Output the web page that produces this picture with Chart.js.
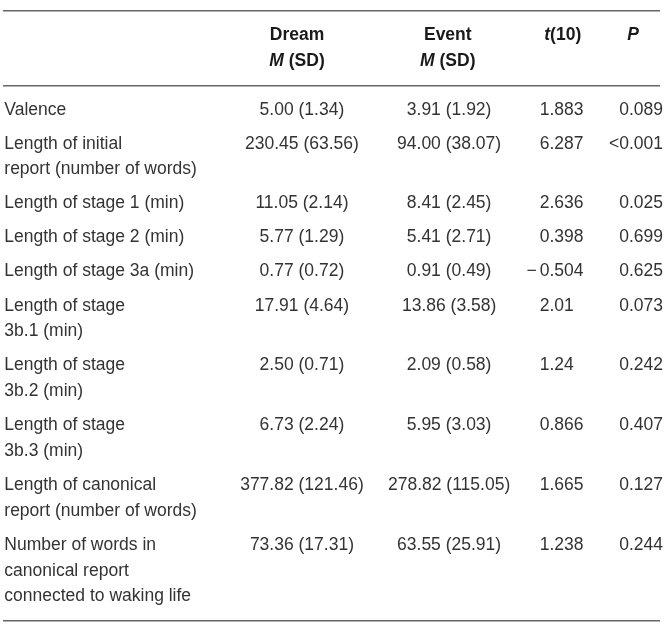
<!DOCTYPE html>
<html>
<head>
<meta charset="utf-8">
<script src="https://cdn.jsdelivr.net/npm/chart.js@4.4.1/dist/chart.umd.min.js"></script>
<style>
    html, body { margin: 0; padding: 0; background: #fff; }
    #wrap { width: 667px; height: 630px; position: relative; }
</style>
</head>
<body>
<div id="wrap"><canvas id="tableChart"></canvas></div>
<script>
// --- Table data ---
const rowLabels = [
    ['Valence'],
    ['Length of initial', 'report (number of words)'],
    ['Length of stage 1 (min)'],
    ['Length of stage 2 (min)'],
    ['Length of stage 3a (min)'],
    ['Length of stage', '3b.1 (min)'],
    ['Length of stage', '3b.2 (min)'],
    ['Length of stage', '3b.3 (min)'],
    ['Length of canonical', 'report (number of words)'],
    ['Number of words in', 'canonical report', 'connected to waking life']
];
const dreamMean = [5.00, 230.45, 11.05, 5.77, 0.77, 17.91, 2.50, 6.73, 377.82, 73.36];
const dreamSD   = [1.34, 63.56, 2.14, 1.29, 0.72, 4.64, 0.71, 2.24, 121.46, 17.31];
const eventMean = [3.91, 94.00, 8.41, 5.41, 0.91, 13.86, 2.09, 5.95, 278.82, 63.55];
const eventSD   = [1.92, 38.07, 2.45, 2.71, 0.49, 3.58, 0.58, 3.03, 115.05, 25.91];
const tValues   = [1.883, 6.287, 2.636, 0.398, -0.504, 2.01, 1.24, 0.866, 1.665, 1.238];
const pValues   = ['0.089', '<0.001', '0.025', '0.699', '0.625', '0.073', '0.242', '0.407', '0.127', '0.244'];

// --- Layout (in table units: x 0..1 across the rules, y in text lines) ---
const GAP = 0.32;   // space between rows
const PAD = 0.29;   // space next to each rule
const HEADER_LINES = 2;

const COL = {
    label: 0.002,
    dreamHead: 0.4475, dream: 0.455,
    eventHead: 0.677, event: 0.679,
    tHead: 0.852, t: 0.817,
    pHead: 0.959, p: 1.0046
};

const BODY_FONT = '17.5px "Liberation Sans", Arial, sans-serif';
const BOLD_FONT = 'bold 17.5px "Liberation Sans", Arial, sans-serif';
const BOLD_ITALIC = 'italic bold 17.5px "Liberation Sans", Arial, sans-serif';

// Work out where every row sits and where the rules go
const headerRule = PAD + HEADER_LINES + GAP + PAD;
const rowTops = [];
let yCursor = headerRule + PAD;
rowLabels.forEach(lines => {
    rowTops.push(yCursor);
    yCursor += lines.length + GAP;
});
const tableEnd = yCursor + PAD;
const rules = [0, headerRule, tableEnd];

function lineCenter(top, k) {
    return top + GAP / 2 + 0.5 + k;
}

const fmt2 = v => v.toFixed(2);
const fmtT = v => String(v).replace('-', '\u2212');

// Draw a line of mixed-font runs, centred on x
function drawRuns(ctx, runs, x, y) {
    let total = 0;
    runs.forEach(r => { ctx.font = r.font; total += ctx.measureText(r.text).width; });
    let cx = x - total / 2;
    ctx.textAlign = 'left';
    runs.forEach(r => {
        ctx.font = r.font;
        ctx.fillText(r.text, cx, y);
        cx += ctx.measureText(r.text).width;
    });
}

const cellText = {
    id: 'cellText',
    afterDraw(chart) {
        const ctx = chart.ctx;
        const xs = chart.scales.x;
        const ys = chart.scales.y;
        const px = v => xs.getPixelForValue(v);
        const py = v => ys.getPixelForValue(v);

        ctx.save();
        ctx.textBaseline = 'middle';

        // Header
        ctx.fillStyle = '#1a1a1a';
        const h1 = py(PAD + GAP / 2 + 0.5);
        const h2 = py(PAD + GAP / 2 + 1.5);
        drawRuns(ctx, [{ text: 'Dream', font: BOLD_FONT }], px(COL.dreamHead), h1);
        drawRuns(ctx, [{ text: 'M', font: BOLD_ITALIC }, { text: ' (SD)', font: BOLD_FONT }], px(COL.dreamHead), h2);
        drawRuns(ctx, [{ text: 'Event', font: BOLD_FONT }], px(COL.eventHead), h1);
        drawRuns(ctx, [{ text: 'M', font: BOLD_ITALIC }, { text: ' (SD)', font: BOLD_FONT }], px(COL.eventHead), h2);
        drawRuns(ctx, [{ text: 't', font: BOLD_ITALIC }, { text: '(10)', font: BOLD_FONT }], px(COL.tHead), h1);
        drawRuns(ctx, [{ text: 'P', font: BOLD_ITALIC }], px(COL.pHead), h1);

        // Body
        ctx.fillStyle = '#333';
        ctx.font = BODY_FONT;
        rowLabels.forEach((lines, i) => {
            const top = rowTops[i];
            lines.forEach((txt, k) => {
                ctx.textAlign = 'left';
                ctx.fillText(txt, px(COL.label), py(lineCenter(top, k)));
            });
            const y0 = py(lineCenter(top, 0));

            ctx.textAlign = 'center';
            ctx.fillText(`${fmt2(dreamMean[i])} (${fmt2(dreamSD[i])})`, px(COL.dream), y0);
            ctx.fillText(`${fmt2(eventMean[i])} (${fmt2(eventSD[i])})`, px(COL.event), y0);

            // t column lines up on the first digit, minus sign hangs out left
            const t = fmtT(tValues[i]);
            ctx.textAlign = 'left';
            if (t.startsWith('\u2212')) {
                const w = ctx.measureText('\u2212').width + 3;
                ctx.fillText('\u2212', px(COL.t) - w, y0);
                ctx.fillText(t.slice(1), px(COL.t), y0);
            } else {
                ctx.fillText(t, px(COL.t), y0);
            }

            ctx.textAlign = 'right';
            ctx.fillText(pValues[i], px(COL.p), y0);
        });
        ctx.restore();
    }
};

const ctxTable = document.getElementById('tableChart');
const tableChart = new Chart(ctxTable, {
    type: 'scatter',
    data: { datasets: [] },
    options: {
        responsive: true,
        maintainAspectRatio: false,
        animation: false,
        events: [],
        layout: { padding: { top: 10.5, bottom: 9, left: 3, right: 7 } },
        plugins: { legend: { display: false }, tooltip: { enabled: false } },
        scales: {
            x: { type: 'linear', min: 0, max: 1, display: false },
            y: {
                type: 'linear',
                min: 0,
                max: tableEnd,
                reverse: true,
                afterBuildTicks: axis => { axis.ticks = rules.map(v => ({ value: v })); },
                ticks: { display: false, padding: 0 },
                border: { display: false },
                grid: { color: '#666', lineWidth: 1.5, drawTicks: false, tickLength: 0 }
            }
        }
    },
    plugins: [cellText]
});
</script>
</body>
</html>
